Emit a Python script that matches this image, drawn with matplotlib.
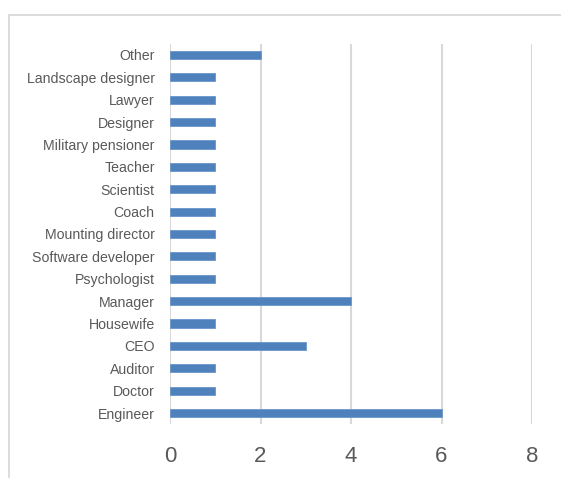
import matplotlib
matplotlib.use("Agg")
import matplotlib.pyplot as plt
from matplotlib.lines import Line2D

# Professions (bottom to top) and respondent counts
categories = ["Engineer", "Doctor", "Auditor", "CEO", "Housewife", "Manager",
              "Psychologist", "Software developer", "Mounting director", "Coach",
              "Scientist", "Teacher", "Military pensioner", "Designer", "Lawyer",
              "Landscape designer", "Other"]
counts = [6, 1, 1, 3, 1, 4, 1, 1, 1, 1, 1, 1, 1, 1, 1, 1, 2]
x_ticks = [0, 2, 4, 6, 8]

plt.rcParams["font.family"] = ["Liberation Sans", "DejaVu Sans"]
text_color = "#595959"
grid_color = "#d9d9d9"
bar_color = "#4f81bd"

fig = plt.figure(figsize=(5.61, 4.78), dpi=100)
fig.patch.set_facecolor("white")

# outer chart frame (top and left edges)
fig.add_artist(Line2D([9 / 561, 1.0], [1 - 15 / 478, 1 - 15 / 478],
                      transform=fig.transFigure, color=grid_color, lw=1.3))
fig.add_artist(Line2D([9 / 561, 9 / 561], [0.0, 1 - 15 / 478],
                      transform=fig.transFigure, color=grid_color, lw=1.3))

ax = fig.add_axes([170 / 561, 1 - 424.2 / 478, 362 / 561, 380.4 / 478])
y = list(range(len(categories)))
ax.barh(y, counts, height=0.36, color=bar_color, edgecolor="#6a96cc",
        linewidth=0.6, zorder=3)

ax.set_xlim(0, 8)
ax.set_ylim(-0.5, len(categories) - 0.5)
ax.set_xticks(x_ticks)
ax.set_xticklabels([str(t) for t in x_ticks])
ax.set_yticks(y)
ax.set_yticklabels(categories)

ax.grid(axis="x", color=grid_color, linewidth=1.5, zorder=0)
ax.set_axisbelow(True)
for s in ax.spines.values():
    s.set_visible(False)

ax.tick_params(axis="both", length=0)
ax.tick_params(axis="y", pad=11)
ax.tick_params(axis="x", pad=16)
for lbl in ax.get_yticklabels():
    lbl.set_fontsize(10.2)
    lbl.set_color(text_color)
for lbl in ax.get_xticklabels():
    lbl.set_fontsize(16)
    lbl.set_color(text_color)

fig.savefig("out.png", dpi=100, facecolor="white")
